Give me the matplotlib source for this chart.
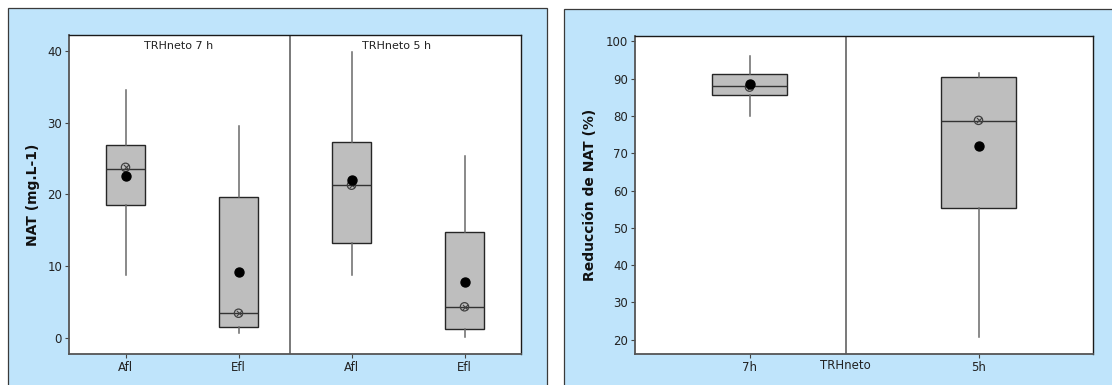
import matplotlib
matplotlib.use("Agg")
import matplotlib.pyplot as plt
from matplotlib.patches import Rectangle

# NAT concentration (mg/L) by sample type and hydraulic retention time
nat_groups = ["Afl", "Efl", "Afl", "Efl"]
nat_panels = ["TRHneto 7 h", "TRHneto 5 h"]
nat_whislo = [8.8, 0.7, 8.7, 0.05]
nat_q1 = [18.5, 1.45, 13.2, 1.2]
nat_med = [23.5, 3.4, 21.3, 4.3]
nat_q3 = [26.9, 19.7, 27.3, 14.7]
nat_whishi = [34.6, 29.6, 39.9, 25.4]
nat_mean = [22.6, 9.1, 22.05, 7.7]
nat_otimes = [23.8, 3.4, 21.3, 4.3]

# NAT removal (%) by retention time
red_groups = ["7h", "5h"]
red_whislo = [80.0, 20.7]
red_q1 = [85.6, 55.2]
red_med = [88.0, 78.5]
red_q3 = [91.3, 90.4]
red_whishi = [96.1, 91.6]
red_mean = [88.5, 71.8]
red_otimes = [87.7, 78.8]

W, H = 1112, 385
fig = plt.figure(figsize=(W / 100, H / 100), dpi=100)
fig.patch.set_facecolor("white")

panel_blue = "#BFE4FB"
for x0, x1, y0 in [(8, 547, 8), (564, 1118, 9.5)]:
    fig.patches.append(Rectangle((x0 / W, -0.05), (x1 - x0) / W, 1 - y0 / H + 0.05,
                                 transform=fig.transFigure, facecolor=panel_blue,
                                 edgecolor="#3a3a3a", linewidth=0.9, zorder=-10))

FONT = "DejaVu Sans"
TXT = "#222222"


def draw_boxes(ax, whislo, q1, med, q3, whishi, mean, otimes, width):
    stats = []
    for i in range(len(med)):
        stats.append(dict(whislo=whislo[i], q1=q1[i], med=med[i], q3=q3[i],
                          whishi=whishi[i], fliers=[]))
    pos = list(range(1, len(med) + 1))
    ax.bxp(stats, positions=pos, widths=width, patch_artist=True, showcaps=False,
           showfliers=False,
           boxprops=dict(facecolor="#BEBEBE", edgecolor="#262626", linewidth=1.0),
           medianprops=dict(color="#333333", linewidth=1.0),
           whiskerprops=dict(color="#6a6a6a", linewidth=1.1), zorder=2)
    ax.scatter(pos, otimes, s=36, facecolor="none", edgecolor="#404040",
               linewidths=0.9, zorder=3)
    ax.scatter(pos, otimes, s=14, marker="x", color="#404040", linewidths=0.8, zorder=3)
    ax.scatter(pos, mean, s=42, color="black", zorder=4)


def style_axes(ax):
    for side in ["top", "right"]:
        ax.spines[side].set_color("#1a1a1a")
        ax.spines[side].set_linewidth(1.0)
    for side in ["left", "bottom"]:
        ax.spines[side].set_color("#555555")
        ax.spines[side].set_linewidth(1.3)
    ax.tick_params(axis="both", direction="out", length=3, width=0.8,
                   color="#444444", labelsize=8.5, labelcolor=TXT, pad=2)
    for lab in ax.get_xticklabels() + ax.get_yticklabels():
        lab.set_family(FONT)


# Left panel: NAT concentration
ax1 = fig.add_axes([69 / W, 1 - 354 / H, (521 - 69) / W, (354 - 35) / H])
draw_boxes(ax1, nat_whislo, nat_q1, nat_med, nat_q3, nat_whishi, nat_mean,
           nat_otimes, 0.345)
ax1.set_xlim(0.5, 4.5)
ax1.set_ylim(-2.3, 42.3)
ax1.set_yticks([0, 10, 20, 30, 40])
ax1.set_xticks([1, 2, 3, 4])
ax1.set_xticklabels(nat_groups)
ax1.axvline(2.46, color="#555555", linewidth=1.1, zorder=1)
ax1.text(1.47, 40.8, nat_panels[0], ha="center", va="center", fontsize=8,
         color=TXT, family=FONT)
ax1.text(3.40, 40.7, nat_panels[1], ha="center", va="center", fontsize=8,
         color=TXT, family=FONT)
ax1.set_ylabel("NAT (mg.L-1)", fontsize=10, fontweight="bold", color="#111111",
               family=FONT, labelpad=5.5)
style_axes(ax1)

# Right panel: NAT removal
ax2 = fig.add_axes([635 / W, 1 - 354 / H, (1093 - 635) / W, (354 - 36) / H])
draw_boxes(ax2, red_whislo, red_q1, red_med, red_q3, red_whishi, red_mean,
           red_otimes, 0.326)
ax2.set_xlim(0.5, 2.5)
ax2.set_ylim(16.2, 101.4)
ax2.set_yticks(range(20, 101, 10))
ax2.set_xticks([1, 2])
ax2.set_xticklabels(red_groups)
ax2.axvline(1.42, color="#555555", linewidth=1.1, zorder=1)
ax2.text(1.42, -0.037, "TRHneto", transform=ax2.get_xaxis_transform(), ha="center",
         va="center", fontsize=8.5, color=TXT, family=FONT)
ax2.set_ylabel("Reducción de NAT (%)", fontsize=10, fontweight="bold",
               color="#111111", family=FONT, labelpad=6.5)
style_axes(ax2)

fig.savefig("out.png", dpi=100)
